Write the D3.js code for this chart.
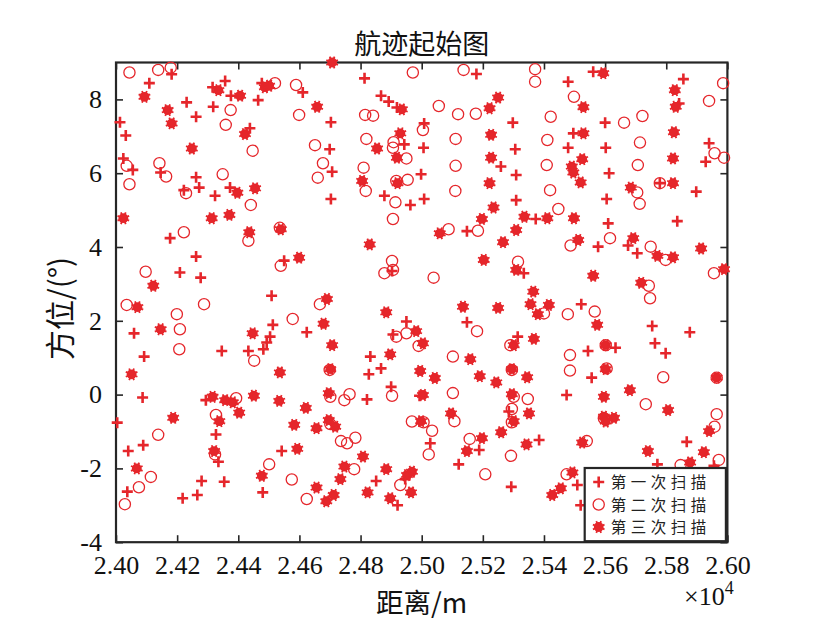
<!DOCTYPE html>
<html><head><meta charset="utf-8">
<script src="https://cdn.jsdelivr.net/npm/d3@7"></script>
<style>body{margin:0;background:#fff}svg{display:block}
.serif, .tick text{font-family:"Liberation Serif","Times New Roman",Times,"DejaVu Serif",serif !important;}
</style>
</head><body>
<script>
const title = "航迹起始图";
const xLabel = "距离/m";
const yLabel = "方位/(°)";
const legendLabels = ["第一次扫描", "第二次扫描", "第三次扫描"];
const xTicks = [24000,24200,24400,24600,24800,25000,25200,25400,25600,25800,26000];
const yTicks = [-4,-2,0,2,4,6,8];

// 第一次扫描 (+)
const scan1 = [[24182,8.68],[24109,8.44],[24357,8.50],[24316,8.33],[24477,8.44],[24611,8.19],[24376,8.10],[24465,7.98],[24231,7.92],[24318,7.80],[24262,7.53],[24013,7.38],[24032,7.02],[24438,7.22],[24024,6.40],[24055,6.09],[24146,6.02],[24262,5.89],[24272,5.61],[24222,5.54],[24373,5.61],[24324,5.39],
[24813,8.57],[25179,8.69],[24867,8.10],[24892,7.94],[24919,7.78],[24703,7.38],[25008,7.35],[24943,6.78],[25006,6.69],[24699,6.65],[24707,6.04],[24998,5.97],[24878,5.39],[24963,5.14],[25008,5.30],[24703,5.30],[25298,7.37],[25306,6.65],[25259,6.18],[25309,5.95],[25309,5.27],
[25561,8.75],[25479,8.48],[25856,8.55],[25842,7.89],[25600,7.37],[25496,7.08],[25479,6.69],[25602,6.69],[25613,6.00],[25605,5.30],[25779,5.73],[25940,6.81],[25929,6.31],[25898,5.50],[25373,4.76],
[24177,4.24],[24262,3.74],[24209,3.31],[24277,3.17],[24550,3.63],[24509,2.68],[24059,1.66],[24092,1.03],[24346,1.18],[24433,1.18],[24482,1.23],[24493,1.41],[24504,1.57],[24513,1.89],[24624,1.69],
[25148,4.43],[24903,3.35],[25334,3.29],[24950,1.98],[24906,1.63],[25148,1.96],[24832,1.03],[24867,0.71],[24827,0.55],[25314,1.57],
[25610,4.64],[25836,4.70],[25577,4.01],[25675,4.04],[25705,3.83],[25522,2.45],[25754,1.86],[25877,1.69],[25544,1.18],[25634,1.27],[25763,1.39],[25798,1.12],[25556,0.46],
[24087,-0.08],[24294,-0.15],[24004,-0.76],[24327,-1.08],[24089,-1.37],[24040,-1.53],[24335,-1.82],[24542,-1.53],[24280,-2.34],[24354,-2.36],[24266,-2.72],[24218,-2.81],[24037,-2.63],[24480,-2.65],
[24900,0.21],[24821,-0.13],[24993,-0.03],[25285,-0.46],[25028,-1.32],[25188,-1.50],[25121,-1.89],[24851,-2.34],[24946,-2.29],[24921,-3.00],[25293,-2.50],
[25474,-0.01],[25384,-1.23],[25867,-1.28],[25771,-1.89],[25956,-1.93],[25509,-2.45],[25520,-3.00]];

// 第二次扫描 (o)
const scan2 = [[24044,8.73],[24138,8.80],[24179,8.86],[24520,8.44],[24589,8.39],[24375,7.71],[24599,7.58],[24359,7.31],[24447,6.61],[24651,6.76],[24142,6.27],[24035,6.20],[24164,5.91],[24349,5.97],[24044,5.70],[24229,5.46],[24441,5.14],[24660,5.88],
[24971,8.73],[25137,8.80],[24815,7.58],[24841,7.56],[25056,7.82],[25119,7.60],[25177,7.61],[25004,7.17],[24819,6.93],[24908,6.84],[24906,6.69],[24950,6.40],[25111,6.93],[24677,6.27],[24810,6.15],[25111,6.20],[24917,5.79],[24954,5.82],[24817,5.52],[25110,5.52],[24914,5.21],[24906,4.76],
[25371,8.82],[25371,8.48],[25498,8.07],[25422,7.53],[25411,6.90],[25409,6.22],[25420,5.54],[25447,5.03],[25662,7.37],[25722,7.55],[25714,6.83],[25707,6.22],[25705,5.48],[25713,5.17],[25779,5.73],[25940,7.96],[25986,8.44],[25958,6.54],[25989,6.42],
[24222,4.40],[24433,4.17],[24536,4.52],[24539,3.49],[24097,3.33],[24035,2.43],[24288,2.45],[24199,2.18],[24209,1.77],[24207,1.23],[24578,2.05],[24452,0.92],[24667,2.45],
[25088,4.48],[25184,4.44],[24903,3.62],[24906,3.38],[24878,3.29],[25039,3.17],[25315,3.60],[24950,1.66],[24917,1.57],[25181,1.72],[24990,1.32],[25102,1.03],[24699,0.67],[25290,1.34],[25295,0.67],
[25487,4.04],[25616,4.24],[25749,4.01],[25798,3.65],[25743,2.95],[25747,2.61],[25956,3.29],[25400,2.20],[25478,2.18],[25566,2.25],[25485,1.07],[25485,0.65],[25605,0.71],[25790,0.47],[25965,0.46],[25602,1.34],
[24393,-0.10],[24327,-0.55],[24324,-1.62],[24138,-1.09],[24114,-2.23],[24075,-2.51],[24029,-2.97],[24501,-1.89],[24575,-2.30],[24624,-2.83],
[24764,0.01],[24747,-0.15],[24903,-0.03],[24701,-0.06],[25102,0.04],[25301,-0.06],[25347,-0.12],[24968,-0.73],[25006,-0.75],[25034,-0.98],[25107,-0.72],[24701,-0.80],[24736,-1.26],[24756,-1.32],[24783,-1.17],[25023,-1.62],[25157,-1.20],[25292,-1.66],[25295,-0.39],[25295,-0.75],[24779,-2.02],[24930,-2.45],[25208,-2.16],
[25733,-0.26],[25965,-0.53],[25958,-0.87],[25972,-1.77],[25540,-1.26],[25474,-2.16],[25847,-1.91],[25596,-0.64]];

// 第三次扫描 (*)
const scan3 = [[24093,8.07],[24335,8.25],[24406,8.10],[24487,8.33],[24501,8.37],[24169,7.71],[24182,7.35],[24422,7.06],[24248,6.67],[24397,5.47],[24455,5.59],[24658,7.80],[24024,4.78],[24313,4.78],[24371,4.87],
[24707,9.00],[24935,7.73],[24930,7.08],[24854,6.67],[24919,6.42],[24805,5.79],[24921,5.73],[25250,8.05],[25222,7.76],[25227,7.04],[25227,6.42],[25222,5.73],[25235,5.07],[25197,4.76],[25336,4.82],
[25594,8.71],[25529,7.79],[25529,7.08],[25525,6.38],[25491,6.18],[25496,6.02],[25520,5.75],[25828,8.25],[25831,7.80],[25825,7.11],[25822,6.40],[25822,5.73],[25684,5.61],[25411,4.78],[25498,4.78],
[24436,4.40],[24539,4.48],[24599,3.71],[24122,2.95],[24070,2.37],[24146,1.77],[24447,1.66],[24536,0.60],[24051,0.55],[24679,1.92],
[25059,4.37],[25309,4.46],[25266,4.13],[24830,4.07],[25203,3.65],[25309,3.38],[24690,2.59],[24884,2.23],[25135,2.38],[25250,2.35],[24982,1.72],[25004,1.39],[24707,1.34],[24897,1.09],[24701,0.69],[24995,0.64],[25043,0.45],[25159,0.96],[25190,0.50],[25301,1.34],[25295,0.69],[25356,2.45],
[25512,4.19],[25692,4.24],[25771,3.76],[25822,3.72],[25914,3.96],[25989,3.40],[25561,3.22],[25718,3.03],[25365,2.79],[25416,2.43],[25380,2.18],[25574,1.89],[25367,1.51],[25602,1.34],[25602,0.69],[25345,0.47],[25965,0.46],
[24316,-0.06],[24357,-0.15],[24382,-0.21],[24451,-0.03],[24534,-0.17],[24621,-0.36],[24187,-0.63],[24338,-0.72],[24403,-0.49],[24583,-0.82],[24656,-0.91],[24321,-1.53],[24593,-1.47],[24068,-2.00],[24477,-2.20],[24656,-2.52],
[25244,0.33],[24696,0.04],[25004,-0.01],[25295,0.01],[24696,-0.69],[24717,-0.87],[24998,-0.72],[25096,-0.51],[25301,-0.72],[25260,-1.02],[25197,-1.18],[25148,-1.53],[25351,-0.51],[24808,-1.68],[24747,-1.95],[24734,-2.29],[24884,-2.02],[24968,-2.09],[24952,-2.18],[24823,-2.65],[24712,-2.72],[24688,-2.89],[24897,-2.81],[24965,-2.65],[25343,-1.35],
[25596,-0.06],[25681,0.12],[25806,-0.42],[25596,-0.60],[25629,-0.63],[25602,-0.73],[25525,-1.30],[25740,-1.53],[25923,-1.56],[25940,-0.99],[25878,-1.84],[25493,-2.11],[25455,-2.54],[25427,-2.72]];

const W = 813, H = 641;
const RED = "#e5262b", INK = "#262626";
const SERIF = "Liberation Serif, Times New Roman, serif";
const CJK = "Noto Sans CJK SC, sans-serif";
const L = 116, R = 727.4, T = 62.5, B = 542.2;

const x = d3.scaleLinear().domain([24000, 26000]).range([L, R]);
const y = d3.scaleLinear().domain([-4, 9]).range([B, T]);

const svg = d3.select("body").append("svg").attr("width", W).attr("height", H);

// axes
const fmtX = d => (d / 1e4).toFixed(2);
const fmtY = d => String(d);
function styleAxis(g, labels) {
  g.attr("font-family", SERIF).attr("font-size", 26);
  g.select(".domain").remove();
  g.selectAll(".tick line").attr("stroke", INK).attr("stroke-width", 1.6);
  g.selectAll(".tick text").attr("fill", labels ? "#111" : "none").style("font-size", "26px");
}
svg.append("g").attr("transform", `translate(0,${B})`)
  .call(d3.axisBottom(x).tickValues(xTicks).tickFormat(fmtX).tickSizeInner(-7).tickSizeOuter(0).tickPadding(13))
  .call(g => styleAxis(g, true));
svg.append("g").attr("transform", `translate(0,${T})`)
  .call(d3.axisTop(x).tickValues(xTicks).tickFormat("").tickSizeInner(-7).tickSizeOuter(0))
  .call(g => styleAxis(g, false));
svg.append("g").attr("transform", `translate(${L},0)`)
  .call(d3.axisLeft(y).tickValues(yTicks).tickFormat(fmtY).tickSizeInner(-7).tickSizeOuter(0).tickPadding(14))
  .call(g => styleAxis(g, true));
svg.append("g").attr("transform", `translate(${R},0)`)
  .call(d3.axisRight(y).tickValues(yTicks).tickFormat("").tickSizeInner(-7).tickSizeOuter(0))
  .call(g => styleAxis(g, false));

svg.append("rect").attr("x", L).attr("y", T).attr("width", R - L).attr("height", B - T)
  .attr("fill", "none").attr("stroke", INK).attr("stroke-width", 2.2);

// marker drawers
function plus(g, s) {
  g.append("path").attr("d", `M${-s},0H${s}M0,${-s}V${s}`)
    .attr("stroke", RED).attr("stroke-width", 2.6).attr("fill", "none");
}
function ring(g) {
  g.append("circle").attr("r", 5.6).attr("fill", "none").attr("stroke", RED).attr("stroke-width", 1.3);
}
function star(g) {
  g.append("circle").attr("r", 4.9).attr("fill", RED);
  let d = "";
  for (let i = 0; i < 8; i++) {
    const a = i * Math.PI / 4 + Math.PI / 8;
    d += `M0,0L${(6.3 * Math.cos(a)).toFixed(2)},${(6.3 * Math.sin(a)).toFixed(2)}`;
  }
  g.append("path").attr("d", d).attr("stroke", RED).attr("stroke-width", 1.8);
}

const plot = svg.append("g");
plot.selectAll("g.s1").data(scan1).join("g").attr("class", "s1")
  .attr("transform", d => `translate(${x(d[0])},${y(d[1])})`).each(function(){ plus(d3.select(this), 5.5); });
plot.selectAll("g.s2").data(scan2).join("g").attr("class", "s2")
  .attr("transform", d => `translate(${x(d[0])},${y(d[1])})`).each(function(){ ring(d3.select(this)); });
plot.selectAll("g.s3").data(scan3).join("g").attr("class", "s3")
  .attr("transform", d => `translate(${x(d[0])},${y(d[1])})`).each(function(){ star(d3.select(this)); });

// legend
const lg = svg.append("g");
const lx = 584.7, ly = 468, lw = R - 1.5 - lx, lh = B - 1 - ly;
lg.append("rect").attr("x", lx).attr("y", ly).attr("width", lw).attr("height", lh)
  .attr("fill", "#fff").attr("stroke", INK).attr("stroke-width", 2.2);
const drawers = [g => plus(g, 5.5), g => ring(g), g => star(g)];
legendLabels.forEach((t, i) => {
  const cy = ly + 14 + i * 22.5;
  const g = lg.append("g").attr("transform", `translate(${lx + 14},${cy})`);
  drawers[i](g);
  lg.append("text").attr("x", lx + 26).attr("y", cy + 6).text(t)
    .style("font-family", CJK).style("font-size", "15.5px").style("letter-spacing", "4.5px").attr("fill", "#222");
});

// titles
svg.append("text").attr("x", (L + R) / 2).attr("y", 54).attr("text-anchor", "middle")
  .style("font-family", CJK).style("font-size", "27px").attr("fill", "#111").text(title);
svg.append("text").attr("x", (L + R) / 2).attr("y", 613).attr("text-anchor", "middle")
  .style("font-family", CJK).style("font-size", "27.5px").attr("fill", "#111").text(xLabel);
svg.append("text").attr("transform", `translate(71,${(T + B) / 2 + 6}) rotate(-90)`).attr("text-anchor", "middle")
  .style("font-family", CJK).style("font-size", "30px").attr("fill", "#111").text(yLabel);
const ex = svg.append("text").attr("class", "serif").attr("x", 684).attr("y", 605)
  .style("font-size", "26px").attr("fill", "#111");
ex.append("tspan").text("×10");
ex.append("tspan").attr("dy", -11).style("font-size", "18px").text("4");
</script>
</body></html>
